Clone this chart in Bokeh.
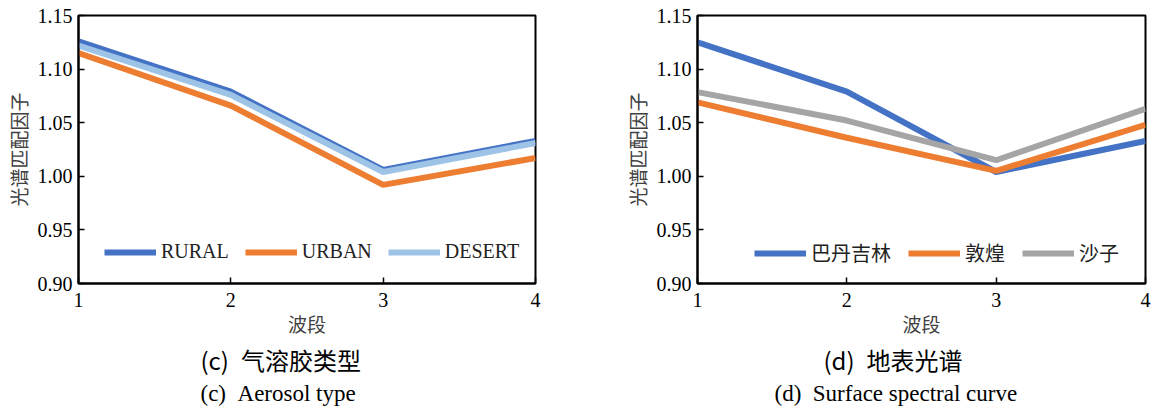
from bokeh.plotting import figure
from bokeh.layouts import row
from bokeh.models import FixedTicker, Legend, LegendItem, PrintfTickFormatter, Range1d, Title
from bokeh.embed import file_html
from bokeh.resources import INLINE

# ---- data ----
bands = [1, 2, 3, 4]
x_ticks = [1, 2, 3, 4]
y_ticks = [0.90, 0.95, 1.00, 1.05, 1.10, 1.15]

rural = [1.126, 1.079, 1.006, 1.033]
urban = [1.115, 1.066, 0.992, 1.017]
desert = [1.122, 1.076, 1.004, 1.031]

badain = [1.125, 1.079, 1.004, 1.033]
dunhuang = [1.069, 1.036, 1.005, 1.048]
sand = [1.0785, 1.052, 1.015, 1.063]

left_names = ["RURAL", "URBAN", "DESERT"]
right_names = ["巴丹吉林", "敦煌", "沙子"]

y_label = "光谱匹配因子"
x_label = "波段"
captions_left = ["(c)\u2002气溶胶类型", "(c)\u2002Aerosol type"]
captions_right = ["(d)\u2002地表光谱", "(d)\u2002Surface spectral curve"]

BLUE = "#4472C4"
ORANGE = "#ED7D31"
LBLUE = "#9DC3E6"
GRAY = "#A5A5A5"

SERIF = "Liberation Serif"
CJK = "Noto Sans CJK SC"


def make_fig(width, border_left, border_right):
    p = figure(width=width, height=411, output_backend="svg", toolbar_location=None,
               title=None, x_range=Range1d(1, 4), y_range=Range1d(0.90, 1.15),
               min_border_left=border_left, min_border_right=border_right,
               min_border_top=15, min_border_bottom=128)
    p.xgrid.visible = False
    p.ygrid.visible = False
    p.outline_line_color = "black"
    p.outline_line_width = 2
    p.outline_line_alpha = 1
    p.background_fill_color = "white"
    p.border_fill_color = "white"
    for ax in (p.xaxis[0], p.yaxis[0]):
        ax.axis_line_width = 2
        ax.axis_line_color = "black"
        ax.major_tick_in = 6
        ax.major_tick_out = 0
        ax.major_tick_line_width = 1.5
        ax.major_tick_line_color = "black"
        ax.minor_tick_line_color = None
        ax.major_label_text_font = SERIF
        ax.major_label_text_font_size = "20px"
        ax.major_label_text_color = "black"
        ax.axis_label_text_font = CJK
        ax.axis_label_text_font_style = "normal"
        ax.axis_label_text_font_size = "19px"
        ax.axis_label_text_color = "#404040"
    p.xaxis.ticker = FixedTicker(ticks=x_ticks)
    p.yaxis.ticker = FixedTicker(ticks=y_ticks)
    p.yaxis.formatter = PrintfTickFormatter(format="%.2f")
    p.xaxis.major_label_standoff = 9
    p.yaxis.major_label_standoff = 6
    p.xaxis.axis_label = x_label
    p.yaxis.axis_label = y_label
    p.xaxis.axis_label_standoff = 0
    p.yaxis.axis_label_standoff = 3
    return p


def add_captions(p, offsets, texts):
    fonts = [CJK, SERIF]
    sizes = ["24px", "23px"]
    standoffs = [0, 5]
    for t, f, off, s, so in zip(texts, fonts, offsets, sizes, standoffs):
        p.add_layout(Title(text=t, align="left", offset=off, standoff=so,
                           text_font=f, text_font_size=s, text_font_style="normal",
                           text_color="black"), "below")


def add_legend(p, items, x, y, font, spacing):
    leg = Legend(items=items, orientation="horizontal", location=(x, y),
                 padding=0, margin=0, spacing=spacing, label_standoff=5,
                 glyph_width=52, glyph_height=20, label_height=20,
                 border_line_color=None, background_fill_alpha=0,
                 label_text_font=font, label_text_font_size="20px",
                 label_text_color="#222222")
    p.add_layout(leg, "center")


# ---- left: aerosol type ----
p1 = make_fig(608, 78, 73)
r1 = p1.line(bands, rural, line_color=BLUE, line_width=6)
r2 = p1.line(bands, urban, line_color=ORANGE, line_width=6)
r3 = p1.line(bands, desert, line_color=LBLUE, line_width=6)
add_legend(p1, [LegendItem(label=n, renderers=[r]) for n, r in zip(left_names, [r1, r2, r3])],
           26, 20, SERIF, 16)
add_captions(p1, [122, 122], captions_left)

# ---- right: surface spectra ----
p2 = make_fig(544, 89, 7)
s1 = p2.line(bands, badain, line_color=BLUE, line_width=6)
s2 = p2.line(bands, dunhuang, line_color=ORANGE, line_width=6)
s3 = p2.line(bands, sand, line_color=GRAY, line_width=6)
add_legend(p2, [LegendItem(label=n, renderers=[r]) for n, r in zip(right_names, [s1, s2, s3])],
           57, 16, CJK, 17)
add_captions(p2, [126, 77], captions_right)

layout = row(p1, p2)
open("out.html", "w").write(file_html(layout, INLINE))
